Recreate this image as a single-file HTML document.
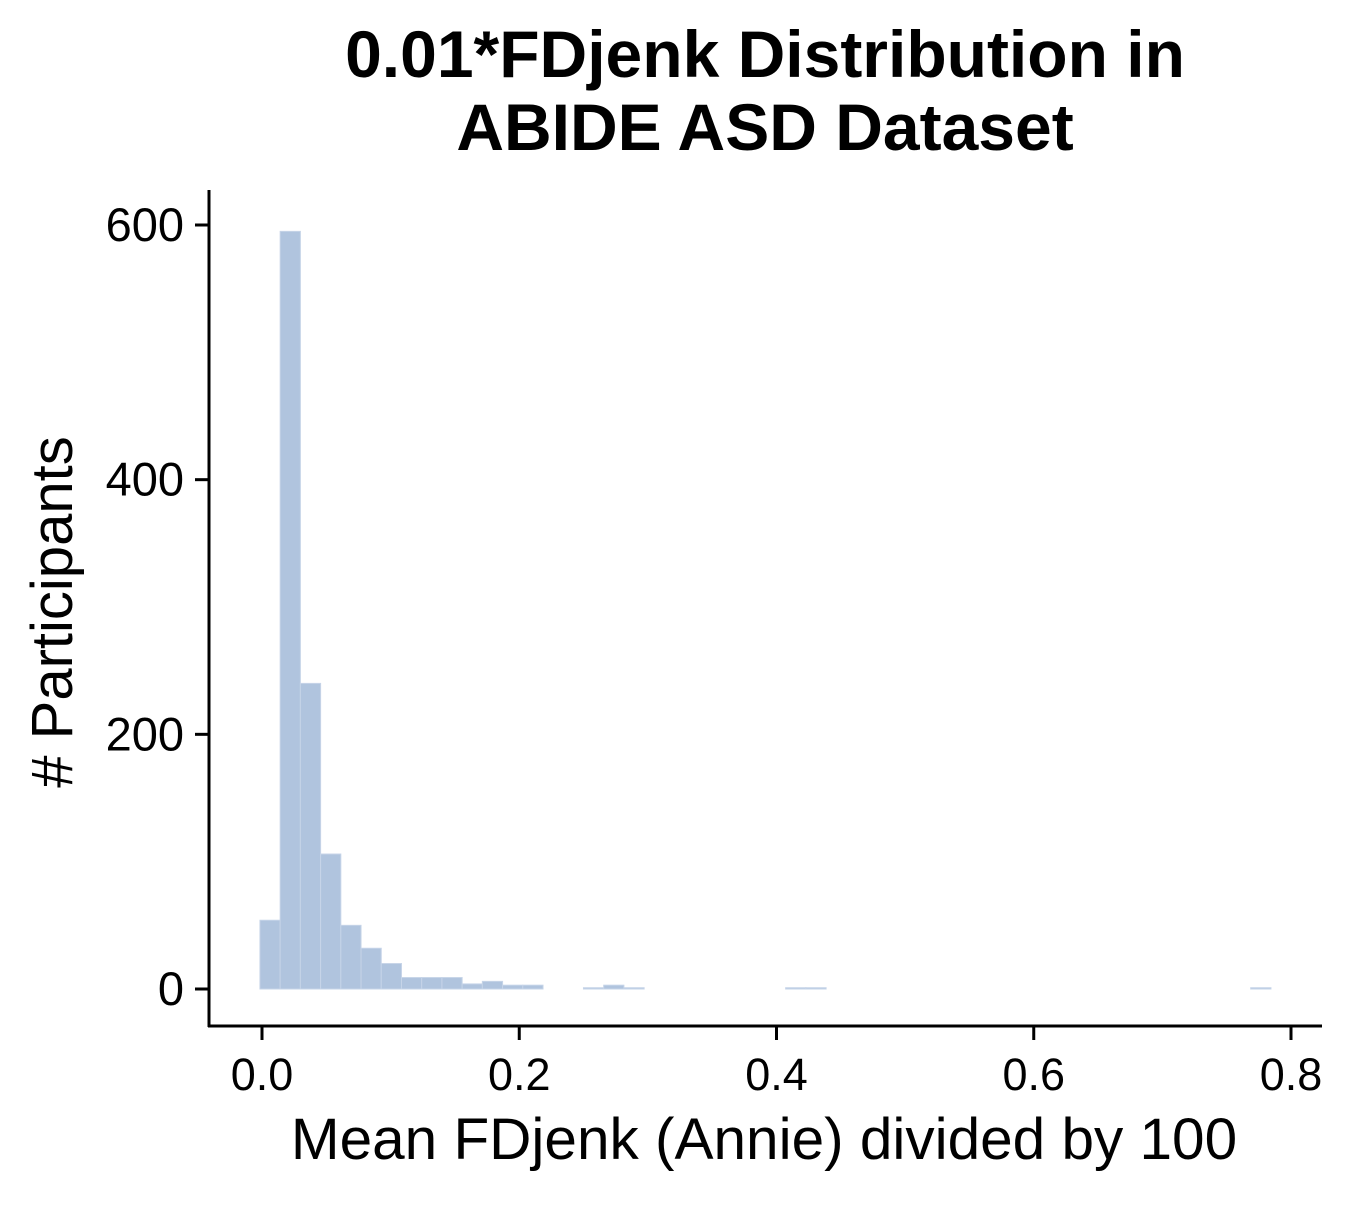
<!DOCTYPE html>
<html><head><meta charset="utf-8"><style>
body{margin:0;background:#fff;font-family:"Liberation Sans",sans-serif;}
</style></head><body>
<svg id="chart" width="1350" height="1200" xmlns="http://www.w3.org/2000/svg" font-family="Liberation Sans, sans-serif">
<text x="765" y="77" text-anchor="middle" font-size="66" font-weight="bold">0.01*FDjenk Distribution in</text>
<text x="765" y="150" text-anchor="middle" font-size="66" font-weight="bold">ABIDE ASD Dataset</text>
<g id="bars"></g>
<g id="axes"></g>
<text x="764" y="1159" text-anchor="middle" font-size="58.5">Mean FDjenk (Annie) divided by 100</text>
<text transform="translate(72,612) rotate(-90)" text-anchor="middle" font-size="58"># Participants</text>
</svg>
<script>
const counts = [54,595,240,106,50,32,20,9,9,9,4,6,3,3,0,0,1,3,1,0,0,0,0,0,0,0,1,1,0,0,0,0,0,0,0,0,0,0,0,0,0,0,0,0,0,0,0,0,0,1];
const binStart = -0.0016;
const binWidth = 0.01572;
const xTicks = [0.0,0.2,0.4,0.6,0.8];
const xTickLabels = ["0.0","0.2","0.4","0.6","0.8"];
const yTicks = [0,200,400,600];
const yTickLabels = ["0","200","400","600"];

const NS="http://www.w3.org/2000/svg";
const xS = v => 262 + v*(1291-262)/0.8;
const yS = v => 989 - v*(989-225)/600;
const bars=document.getElementById('bars'), axes=document.getElementById('axes');
function mk(tag,attrs,parent){const e=document.createElementNS(NS,tag);for(const k in attrs)e.setAttribute(k,attrs[k]);parent.appendChild(e);return e;}
counts.forEach((c,i)=>{
  if(c<=0) return;
  const x0=xS(binStart+i*binWidth), x1=xS(binStart+(i+1)*binWidth);
  const r=mk('rect',{x:x0,y:yS(c),width:x1-x0,height:yS(0)-yS(c),fill:'#b0c4de',stroke:'#c6d4e8','stroke-width':1},bars);
  
  
});
const l1=mk('line',{x1:209,y1:190,x2:209,y2:1027,stroke:'#000','stroke-width':3},axes);


const l2=mk('line',{x1:208,y1:1026,x2:1322,y2:1026,stroke:'#000','stroke-width':3},axes);


yTicks.forEach((v,i)=>{
  const y=yS(v);
  mk('line',{x1:195,y1:y,x2:209,y2:y,stroke:'#000','stroke-width':3},axes);
  const t=mk('text',{x:184,y:y+16,'text-anchor':'end','font-size':47},axes);
  t.textContent=yTickLabels[i];
  
  
});
xTicks.forEach((v,i)=>{
  const x=xS(v);
  mk('line',{x1:x,y1:1026,x2:x,y2:1040,stroke:'#000','stroke-width':3},axes);
  const t=mk('text',{x:x,y:1090,'text-anchor':'middle','font-size':45},axes);
  t.textContent=xTickLabels[i];
  
  
});
</script>
</body></html>
